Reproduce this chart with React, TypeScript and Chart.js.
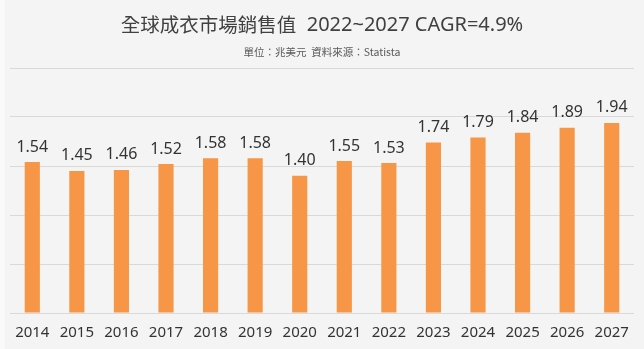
import React, { useEffect, useRef } from "react";
import { Chart, registerables } from "chart.js";

Chart.register(...registerables);

const years = ["2014", "2015", "2016", "2017", "2018", "2019", "2020", "2021", "2022", "2023", "2024", "2025", "2026", "2027"];
const sales = [1.54, 1.45, 1.46, 1.52, 1.58, 1.58, 1.4, 1.55, 1.53, 1.74, 1.79, 1.84, 1.89, 1.94];
const titleCjk = "全球成衣市場銷售值";
const titleLatin = "  2022~2027 CAGR=4.9%";
const subtitleText = "單位：兆美元  資料來源：Statista";

const FONT = "'Noto Sans', 'Noto Sans CJK TC', sans-serif";
const CJK = "'Noto Sans CJK TC', 'Noto Sans', sans-serif";

const labelPlugin = {
  id: "barLabels",
  afterDatasetsDraw(chart: any) {
    const ctx = chart.ctx;
    const meta = chart.getDatasetMeta(0);
    ctx.save();
    ctx.font = `16px ${FONT}`;
    ctx.fillStyle = "#333333";
    ctx.textAlign = "center";
    ctx.textBaseline = "middle";
    meta.data.forEach((el: any, i: number) => {
      ctx.fillText(sales[i].toFixed(2), el.x, el.y - 15);
    });
    ctx.restore();
  },
};

const headerPlugin = {
  id: "header",
  beforeDraw(chart: any) {
    const ctx = chart.ctx;
    ctx.save();
    ctx.fillStyle = "#f4f4f4";
    ctx.fillRect(0, 0, chart.width, chart.height);
    ctx.fillStyle = "#f9f9f9";
    ctx.fillRect(0, 0, 5, chart.height);
    const cx = chart.width / 2;
    ctx.textBaseline = "middle";
    ctx.fillStyle = "#404040";
    const f1 = `19.5px ${CJK}`;
    const f2 = `20px ${FONT}`;
    ctx.font = f1;
    const w1 = ctx.measureText(titleCjk).width;
    ctx.font = f2;
    const w2 = ctx.measureText(titleLatin).width;
    const x = cx - (w1 + w2) / 2;
    ctx.textAlign = "left";
    ctx.font = f1;
    ctx.fillText(titleCjk, x, 25);
    ctx.font = f2;
    ctx.fillText(titleLatin, x + w1, 25);
    ctx.textAlign = "center";
    ctx.fillStyle = "#595959";
    ctx.font = `10.5px ${CJK}`;
    ctx.fillText(subtitleText, cx, 52);
    ctx.restore();
  },
};

export default function App() {
  const ref = useRef<HTMLCanvasElement | null>(null);
  useEffect(() => {
    document.body.style.margin = "0";
    const chart = new Chart(ref.current!, {
      type: "bar",
      data: {
        labels: years,
        datasets: [
          {
            data: sales,
            backgroundColor: "#F79646",
            borderWidth: 0,
            barPercentage: 0.34,
            categoryPercentage: 1,
          },
        ],
      },
      options: {
        animation: false,
        responsive: false,
        maintainAspectRatio: false,
        layout: { padding: { top: 68, left: 10, right: 10, bottom: 0 } },
        plugins: { legend: { display: false }, tooltip: { enabled: false }, title: { display: false } },
        scales: {
          x: {
            grid: { display: false },
            border: { display: false },
            ticks: { color: "#333333", font: { size: 15, family: FONT }, padding: 3 },
            afterFit(scale: any) {
              scale.height = 36;
            },
          },
          y: {
            min: 0,
            max: 2.5,
            ticks: { display: false, stepSize: 0.5 },
            grid: { color: "#d9d9d9", drawTicks: false, lineWidth: 1 },
            border: { display: false },
          },
        },
      },
      plugins: [headerPlugin, labelPlugin],
    });
    return () => chart.destroy();
  }, []);
  return (
    <div style={{ width: 644, height: 349 }}>
      <canvas ref={ref} width={644} height={349} style={{ display: "block" }} />
    </div>
  );
}
